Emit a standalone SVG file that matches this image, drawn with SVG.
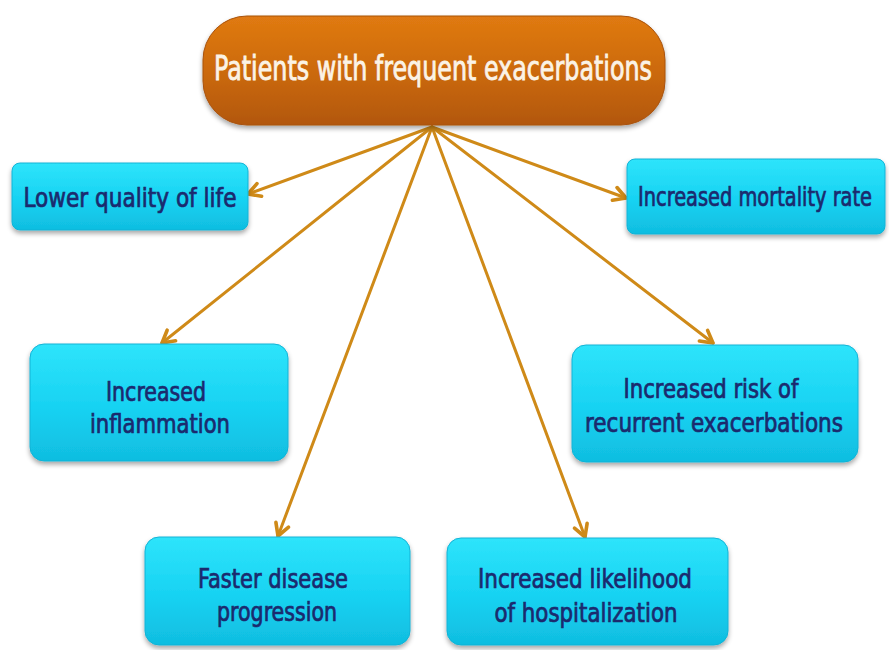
<svg xmlns="http://www.w3.org/2000/svg" width="889" height="650" viewBox="0 0 889 650">
<defs>
<linearGradient id="gOrange" x1="0" y1="0" x2="0" y2="1">
<stop offset="0" stop-color="#e07a12"/>
<stop offset="0.5" stop-color="#cc6a0c"/>
<stop offset="1" stop-color="#b2570a"/>
</linearGradient>
<linearGradient id="gCyan" x1="0" y1="0" x2="0" y2="1">
<stop offset="0" stop-color="#2ee4fb"/>
<stop offset="0.55" stop-color="#17d2f2"/>
<stop offset="1" stop-color="#10bde0"/>
</linearGradient>
<filter id="sh" x="-10%" y="-10%" width="120%" height="130%">
<feGaussianBlur in="SourceAlpha" stdDeviation="2.5"/>
<feOffset dx="0" dy="3" result="b"/>
<feComponentTransfer><feFuncA type="linear" slope="0.35"/></feComponentTransfer>
<feMerge><feMergeNode/><feMergeNode in="SourceGraphic"/></feMerge>
</filter>
<marker id="ah" viewBox="0 0 12 12" refX="10" refY="6" markerWidth="6" markerHeight="6" orient="auto" markerUnits="strokeWidth">
<polyline points="2,1.5 10,6 2,10.5" fill="none" stroke="#cf8a18" stroke-width="2.4" stroke-linejoin="round" stroke-linecap="round"/>
</marker>
</defs>
<style>
.box{fill:url(#gCyan);stroke:#12b3d6;stroke-width:1;filter:url(#sh)}
.lbl{font-family:"DejaVu Sans Condensed","DejaVu Sans","Liberation Sans",sans-serif;font-size:26px;fill:#1b2a6e;stroke:#1b2a6e;stroke-width:0.7;text-anchor:middle}
.conn{stroke:#cf8a18;stroke-width:3;fill:none;marker-end:url(#ah);stroke-linecap:round}
</style>
<rect width="889" height="650" fill="#ffffff"/>
<g id="connectors">
<line class="conn" x1="432" y1="127" x2="248" y2="194"/>
<line class="conn" x1="432" y1="127" x2="626" y2="198"/>
<line class="conn" x1="432" y1="127" x2="162" y2="343"/>
<line class="conn" x1="432" y1="127" x2="713" y2="343"/>
<line class="conn" x1="432" y1="127" x2="278" y2="536"/>
<line class="conn" x1="432" y1="127" x2="585" y2="537"/>
</g>
<g id="root">
<rect x="203" y="16" width="462" height="109" rx="44" ry="44" fill="url(#gOrange)" stroke="#a8520a" stroke-width="1" filter="url(#sh)"/>
<text x="433" y="80" font-family="'DejaVu Sans Condensed','DejaVu Sans','Liberation Sans',sans-serif" font-size="33" fill="#fbf3e6" stroke="#fbf3e6" stroke-width="0.8" text-anchor="middle" textLength="438" lengthAdjust="spacingAndGlyphs">Patients with frequent exacerbations</text>
</g>
<g id="lower-quality">
<rect class="box" x="12" y="163" width="236" height="67" rx="8"/>
<text class="lbl" x="130" y="207" textLength="213" lengthAdjust="spacingAndGlyphs">Lower quality of life</text>
</g>
<g id="mortality">
<rect class="box" x="627" y="159" width="258" height="75" rx="8"/>
<text class="lbl" x="755" y="206" font-size="22" textLength="234" lengthAdjust="spacingAndGlyphs">Increased mortality rate</text>
</g>
<g id="inflammation">
<rect class="box" x="30" y="344" width="258" height="117" rx="14"/>
<text class="lbl" x="156" y="401" textLength="100" lengthAdjust="spacingAndGlyphs">Increased</text>
<text class="lbl" x="160" y="433" textLength="140" lengthAdjust="spacingAndGlyphs">inflammation</text>
</g>
<g id="recurrent">
<rect class="box" x="572" y="345" width="286" height="117" rx="14"/>
<text class="lbl" x="711" y="398" textLength="175" lengthAdjust="spacingAndGlyphs">Increased risk of</text>
<text class="lbl" x="714" y="432" textLength="258" lengthAdjust="spacingAndGlyphs">recurrent exacerbations</text>
</g>
<g id="progression">
<rect class="box" x="145" y="537" width="265" height="108" rx="14"/>
<text class="lbl" x="273" y="588" textLength="150" lengthAdjust="spacingAndGlyphs">Faster disease</text>
<text class="lbl" x="277" y="621" textLength="120" lengthAdjust="spacingAndGlyphs">progression</text>
</g>
<g id="hospitalization">
<rect class="box" x="447" y="538" width="281" height="107" rx="14"/>
<text class="lbl" x="585" y="588" textLength="214" lengthAdjust="spacingAndGlyphs">Increased likelihood</text>
<text class="lbl" x="586" y="622" textLength="183" lengthAdjust="spacingAndGlyphs">of hospitalization</text>
</g>
</svg>
